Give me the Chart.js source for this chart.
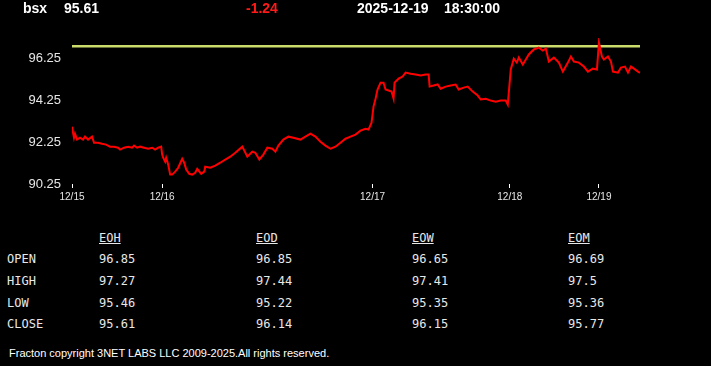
<!DOCTYPE html>
<html>
<head>
<meta charset="utf-8">
<script src="https://cdn.jsdelivr.net/npm/chart.js@4"></script>
<style>
  body { margin: 0; background: #000; width: 711px; height: 366px; overflow: hidden; position: relative; font-family: "Liberation Sans", Arial, sans-serif; }
  #price { position: absolute; left: 0; top: 0; }
  .hd { position: absolute; top: 0; font: bold 14px "Liberation Sans", Arial, sans-serif; color: #fff; line-height: 16px; white-space: nowrap; }
  .tb { position: absolute; font: 12px "DejaVu Sans Mono", monospace; color: #e8e8e8; line-height: 14px; white-space: nowrap; }
  .tb.h { text-decoration: underline; }
  #foot { position: absolute; left: 9px; top: 346px; font: 11px "Liberation Sans", Arial, sans-serif; color: #fff; line-height: 14px; white-space: nowrap; }
</style>
</head>
<body>
<canvas id="price" width="711" height="215"></canvas>
<div class="hd" style="left:23px">bsx</div>
<div class="hd" style="left:64px">95.61</div>
<div class="hd" style="left:246px;color:#ff1a1a">-1.24</div>
<div class="hd" style="left:357px">2025-12-19</div>
<div class="hd" style="left:444px">18:30:00</div>
<div id="tbl"></div>
<div id="foot">Fracton copyright 3NET LABS LLC 2009-2025.All rights reserved.</div>
<script>
// bar index (5-min bars since 12/15 open) and last price
const bars = [0,1,2,3,5,8,11,13,16,20,22,26,30,34,38,42,46,48,52,56,60,62,65,68,72,76,80,83,86,89,
  90,91,93,94,96,98,100,103,106,110,112,114,117,120,123,125,129,132,133,138,143,148,153,158,163,170,
  175,180,183,187,191,195,200,203,206,211,216,221,228,233,238,243,248,253,258,263,268,273,278,283,288,
  293,296,299,301,303,305,308,311,313,316,319,321,322,326,330,333,338,343,348,353,356,357,361,365,368,
  373,378,383,386,391,395,400,405,408,413,418,423,428,433,435,438,441,444,446,450,453,456,461,466,470,
  473,476,481,486,490,495,498,501,506,511,515,520,524,526,529,531,535,538,540,545,548,552,555,558,561,565,567];
const prices = [93.00,92.71,92.47,92.66,92.38,92.47,92.38,92.52,92.38,92.52,92.23,92.23,92.18,92.14,92.04,92.04,91.99,91.90,91.99,92.04,91.99,92.09,91.99,92.04,91.99,91.94,91.99,91.90,91.99,92.04,
  91.66,91.51,91.32,91.51,91.18,90.70,90.70,90.84,91.03,91.46,91.27,90.94,90.74,90.70,90.79,90.98,90.74,90.84,91.08,91.03,91.13,91.27,91.42,91.56,91.75,92.04,
  91.56,91.80,91.75,91.42,91.66,91.99,91.94,91.80,92.09,92.38,92.52,92.47,92.38,92.52,92.66,92.52,92.28,92.09,91.94,92.04,92.23,92.42,92.52,92.62,92.81,
  92.90,92.86,93.19,93.96,94.34,94.78,95.11,95.11,94.78,94.73,94.68,94.34,95.11,95.30,95.40,95.59,95.54,95.50,95.45,95.50,95.50,94.92,94.97,95.02,94.82,
  94.92,94.97,95.02,94.78,94.87,94.92,94.68,94.49,94.30,94.34,94.25,94.20,94.25,94.25,94.06,95.74,96.26,96.07,96.31,95.98,96.22,96.46,96.70,96.79,96.65,
  96.74,96.12,96.31,96.07,95.64,96.07,96.36,96.12,96.07,95.88,95.64,95.78,95.74,97.03,96.36,96.22,96.36,96.12,95.64,95.59,95.83,95.88,95.59,95.88,95.78,95.64,95.58];
const openPrice = 96.85;
const dayBars = [0, 90, 300, 437, 526];
const dayLabels = ['12/15', '12/16', '12/17', '12/18', '12/19'];
const yTicks = [90.25, 92.25, 94.25, 96.25];

// summary table
const periods = ['EOH', 'EOD', 'EOW', 'EOM'];
const rowNames = ['OPEN', 'HIGH', 'LOW', 'CLOSE'];
const opens = ['96.85', '96.85', '96.65', '96.69'];
const highs = ['97.27', '97.44', '97.41', '97.5'];
const lows = ['95.46', '95.22', '95.35', '95.36'];
const closes = ['95.61', '96.14', '96.15', '95.77'];

(function(){
  let tbl = document.getElementById('tbl'), colX = [99, 256, 412, 568], rowY = [252, 274, 296, 317],
      rows = [opens, highs, lows, closes], html = '';
  periods.forEach((p, i) => html += `<div class="tb h" style="left:${colX[i]}px;top:231px">${p}</div>`);
  rowNames.forEach((r, j) => {
    html += `<div class="tb" style="left:7px;top:${rowY[j]}px">${r}</div>`;
    rows[j].forEach((v, i) => html += `<div class="tb" style="left:${colX[i]}px;top:${rowY[j]}px">${v}</div>`);
  });
  tbl.innerHTML = html;

  new Chart(document.getElementById('price'), {
    type: 'line',
    data: {
      datasets: [
        {
          data: bars.map((b, i) => ({ x: b, y: prices[i] })),
          borderColor: '#ff0000',
          borderWidth: 2,
          pointRadius: 0,
          tension: 0,
          order: 0
        },
        {
          data: [{ x: 0, y: openPrice }, { x: bars[bars.length - 1], y: openPrice }],
          borderColor: '#cbdc6c',
          borderWidth: 2.5,
          pointRadius: 0,
          order: 1
        }
      ]
    },
    options: {
      responsive: false,
      animation: false,
      devicePixelRatio: 1,
      layout: { padding: { top: 38, right: 71, left: 0, bottom: 0 } },
      plugins: { legend: { display: false }, tooltip: { enabled: false } },
      scales: {
        x: {
          type: 'linear',
          min: 0,
          max: 567,
          afterFit(scale) { scale.height = 31; },
          afterBuildTicks(scale) { scale.ticks = dayBars.map(v => ({ value: v })); },
          grid: { drawOnChartArea: false, drawTicks: true, tickLength: 4, tickColor: '#ffffff', tickWidth: 1 },
          border: { display: false },
          ticks: {
            autoSkip: false,
            maxRotation: 0,
            padding: 3,
            color: '#e6e6e6',
            font: { family: '"Liberation Sans", Arial', size: 10 },
            callback: v => dayLabels[dayBars.indexOf(v)]
          }
        },
        y: {
          min: 90.25,
          max: 97.25,
          afterFit(scale) { scale.width = 72; },
          afterBuildTicks(scale) { scale.ticks = yTicks.map(v => ({ value: v })); },
          grid: { display: false, drawTicks: false },
          border: { display: false },
          ticks: {
            padding: 11,
            color: '#e6e6e6',
            font: { family: '"Liberation Sans", Arial', size: 13 },
            callback: v => v.toFixed(2)
          }
        }
      }
    }
  });
})();
</script>
</body>
</html>
